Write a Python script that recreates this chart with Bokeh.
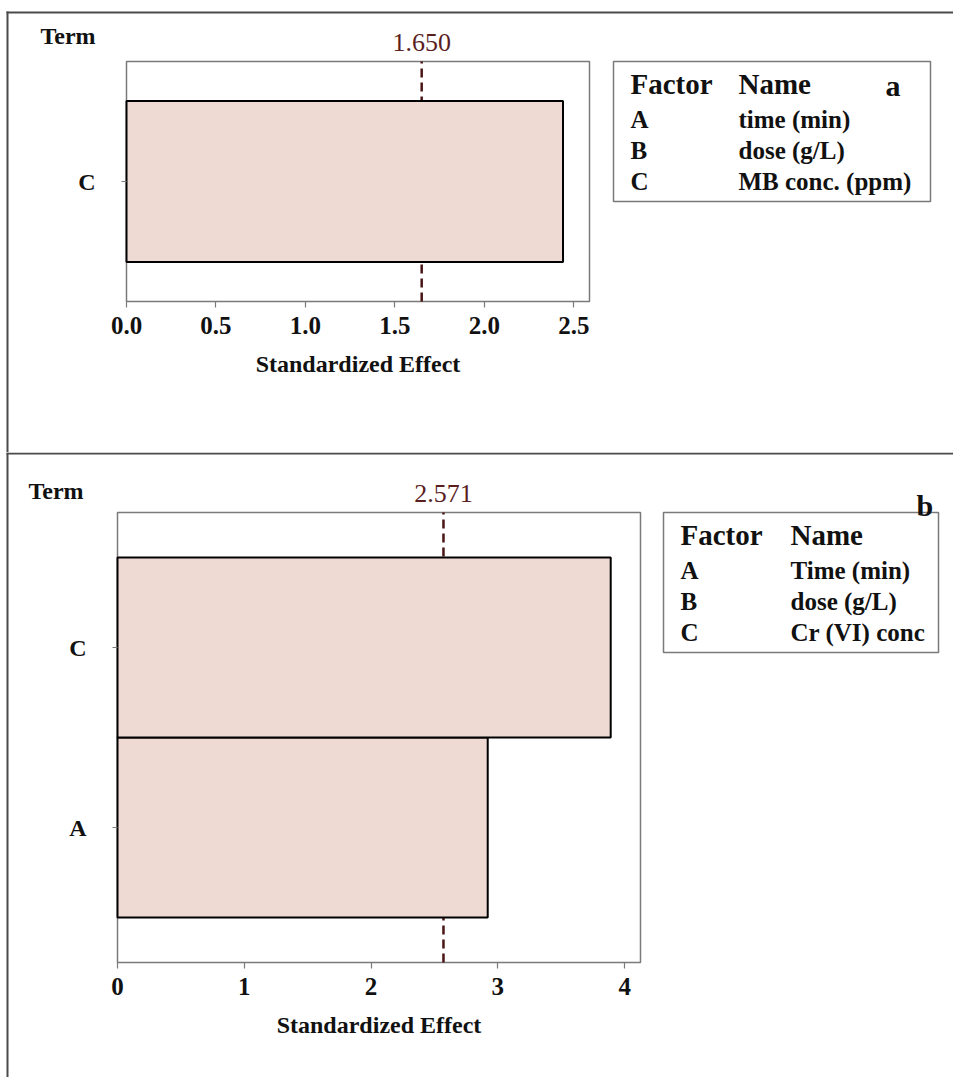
from bokeh.plotting import figure
from bokeh.models import (Range1d, LinearAxis, FixedTicker, NumeralTickFormatter,
                          BoxAnnotation, Label, ColumnDataSource)
from bokeh.embed import file_html
from bokeh.resources import INLINE

FONT = "Liberation Serif"
INK = "#111111"
FRAME = "#7a7a7a"
BORDER = "#4a4a4a"
CRIT = "#4a1515"
CRIT_TEXT = "#5a1e1e"
BAR_FILL = "#eedad3"
W = 953

# ---- panel (a): methylene blue removal model ----
terms_a = ["C"]
effects_a = [2.44]
crit_a = 1.650
xmax_a = 2.588
xticks_a = [0.0, 0.5, 1.0, 1.5, 2.0, 2.5]
factors_a = ["A", "B", "C"]
names_a = ["time (min)", "dose (g/L)", "MB conc. (ppm)"]

# ---- panel (b): Cr(VI) removal model ----
terms_b = ["A", "C"]          # listed bottom to top
effects_b = [2.92, 3.89]
crit_b = 2.571
xmax_b = 4.125
xticks_b = [0, 1, 2, 3, 4]
factors_b = ["A", "B", "C"]
names_b = ["Time (min)", "dose (g/L)", "Cr (VI) conc"]


def canvas_range(px0, px1, v0, v1, size, flip=False):
    """Range for a frame spanning the whole canvas so that v0 sits at
    pixel px0 and v1 at pixel px1 (pixels counted from left / top)."""
    s = (px1 - px0) / (v1 - v0)
    if not flip:
        return Range1d(v0 - px0 / s, v0 + (size - px0) / s)
    # vertical: px0 = top pixel of v1, px1 = bottom pixel of v0
    return Range1d(v0 - (size - px1) / s, v1 + px0 / s)


def put_text(p, x, y, text, size, align="left", baseline="middle",
             color=INK, style="bold"):
    p.add_layout(Label(x=x, y=y, x_units="canvas", y_units="canvas",
                       text=text, text_font=FONT, text_font_size=f"{size}px",
                       text_font_style=style, text_color=color,
                       text_align=align, text_baseline=baseline))


def canvas_box(p, left, right, top, bottom, **kw):
    p.add_layout(BoxAnnotation(left=left, right=right, top=top, bottom=bottom,
                               left_units="canvas", right_units="canvas",
                               top_units="canvas", bottom_units="canvas", **kw))


def rule(p, left, right, top, bottom):
    # solid strip used for the panel border rules
    canvas_box(p, left, right, top, bottom, fill_color=BORDER, fill_alpha=1,
               line_color=None)


def style_axis(ax, size):
    ax.major_label_text_font = FONT
    ax.major_label_text_font_style = "bold"
    ax.major_label_text_font_size = f"{size}px"
    ax.major_label_text_color = INK
    ax.axis_line_color = None
    ax.major_tick_line_color = FRAME
    ax.major_tick_line_width = 1.2
    ax.major_tick_in = 0
    ax.minor_tick_line_color = None


def pareto_panel(terms, effects, crit, xmax, xticks, xfmt, factors, names,
                 tag, g):
    H = g["h"]
    pad = g["pad"]
    ymin, ymax = -0.5 - pad, len(terms) - 0.5 + pad
    p = figure(width=W, height=H,
               x_range=canvas_range(g["fl"], g["fr"], 0, xmax, W),
               y_range=canvas_range(g["ft"], g["fb"], ymin, ymax, H, flip=True),
               output_backend="svg", toolbar_location=None,
               x_axis_location=None, y_axis_location=None, min_border=0)
    p.background_fill_color = "white"
    p.border_fill_color = "white"
    p.outline_line_color = None
    p.xgrid.visible = False
    p.ygrid.visible = False

    # chart frame
    p.add_layout(BoxAnnotation(left=0, right=xmax, bottom=ymin, top=ymax,
                               fill_alpha=0, line_color=FRAME, line_alpha=1,
                               line_width=1.5, level="underlay"))

    # critical t value, drawn under the bars
    p.segment(x0=[crit], y0=[ymin], x1=[crit], y1=[ymax], line_color=CRIT,
              line_width=2.5, line_dash="9 5")

    ypos = list(range(len(terms)))
    src = ColumnDataSource(dict(y=ypos, effect=effects, term=terms))
    p.hbar(y="y", left=0, right="effect", height=1.0, source=src,
           fill_color=BAR_FILL, line_color="black", line_width=2)

    # standardized effect axis
    xa = LinearAxis(fixed_location=ymin, bounds=(0, xmax),
                    ticker=FixedTicker(ticks=xticks),
                    formatter=NumeralTickFormatter(format=xfmt))
    style_axis(xa, 25)
    xa.major_tick_out = 6
    xa.major_label_standoff = 9
    xa.axis_label = "Standardized Effect"
    xa.axis_label_text_font = FONT
    xa.axis_label_text_font_style = "bold"
    xa.axis_label_text_font_size = "24px"
    xa.axis_label_text_color = INK
    xa.axis_label_standoff = 14
    p.add_layout(xa, "below")

    # term axis
    ya = LinearAxis(fixed_location=0, bounds=(ymin, ymax),
                    ticker=FixedTicker(ticks=ypos))
    ya.major_label_overrides = {i: t for i, t in zip(ypos, terms)}
    style_axis(ya, 24)
    ya.major_tick_out = 5
    ya.major_label_standoff = 26
    p.add_layout(ya, "left")

    # critical value printed above the frame
    top = LinearAxis(fixed_location=ymax, bounds=(0, xmax),
                     ticker=FixedTicker(ticks=[crit]),
                     formatter=NumeralTickFormatter(format="0.000"))
    top.axis_line_color = None
    top.major_tick_line_color = None
    top.minor_tick_line_color = None
    top.major_label_text_font = FONT
    top.major_label_text_font_size = "26px"
    top.major_label_text_color = CRIT_TEXT
    top.major_label_standoff = 5
    p.add_layout(top, "above")

    # panel border: top rule and left rule
    rule(p, 6, W, g["bt"] - 1, g["bt"] + 1)
    rule(p, 6, 8, g["bt"] - 1, H)

    put_text(p, g["term_x"], g["term_y"], "Term", 24)

    # factor key
    K = g["key"]
    canvas_box(p, K["l"], K["r"], K["t"], K["t"] + 140, fill_alpha=0,
               line_color=FRAME, line_alpha=1, line_width=1.5)
    put_text(p, K["c1"], K["t"] + 22, "Factor", 29)
    put_text(p, K["c2"], K["t"] + 22, "Name", 29)
    for i, (f, n) in enumerate(zip(factors, names)):
        yy = K["t"] + 58 + 31 * i
        put_text(p, K["c1"], yy, f, 25)
        put_text(p, K["c2"], yy, n, 25)
    put_text(p, g["tag_x"], g["tag_y"], tag, 30, baseline="alphabetic")
    return p


geo_a = dict(h=452, pad=0.245, fl=126, fr=589, ft=61, fb=301, bt=12,
             term_x=40, term_y=35, tag_x=885, tag_y=85,
             key=dict(l=613, r=930, t=61, c1=630, c2=738))
geo_b = dict(h=625, pad=0.25, fl=117, fr=640, ft=60, fb=510, bt=1,
             term_x=28, term_y=38, tag_x=916, tag_y=53,
             key=dict(l=663, r=938, t=60, c1=680, c2=790))

pa = pareto_panel(terms_a, effects_a, crit_a, xmax_a, xticks_a, "0.0",
                  factors_a, names_a, "a", geo_a)
pb = pareto_panel(terms_b, effects_b, crit_b, xmax_b, xticks_b, "0",
                  factors_b, names_b, "b", geo_b)

open("out.html", "w").write(file_html([pa, pb], INLINE))
